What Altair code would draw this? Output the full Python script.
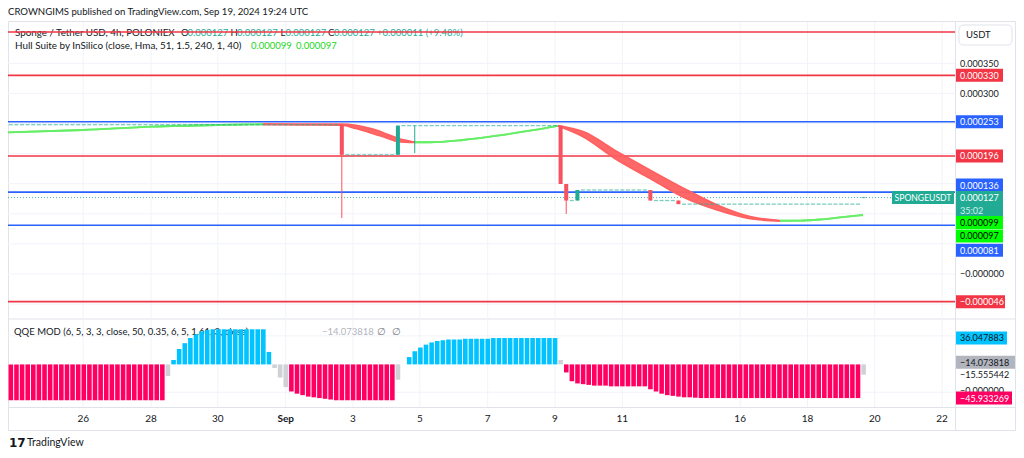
import altair as alt
import pandas as pd

FONT = "Lato"
DARK = "#131722"
TEAL = "#22ab94"
CANDLE_RED = "#f7525f"
LINE_RED = "#f23645"
LINE_BLUE = "#2962ff"
GRID = "#f0f3fa"
FRAME = "#e0e3eb"
HULL_GREEN = "#66ee66"
HULL_RED = "#ff6060"
Q_BLUE = "#00c3ff"
Q_PINK = "#ff0062"
Q_GREY = "#cfd1d6"

# ---------------- data ----------------
X_MAX = 168.8                      # bars visible in the pane (4h bars)
TICK_POS = [13.4, 25.5, 37.4, 49.5, 61.5, 73.4, 85.5, 97.5, 109.5, 130.5, 142.5, 154.5, 166.5]
TICK_LABELS = ["26", "28", "30", "Sep", "3", "5", "7", "9", "11", "16", "18", "20", "22"]

PRICE_MIN, PRICE_MAX = -0.0000748, 0.0004186
QQE_MIN, QQE_MAX = -58.2, 62.0

PRICE_GRID = [0.00035, 0.0003, 0.00025, 0.0002, 0.00015, 0.0001, 0.00005, 0.0, -0.00005]
QQE_GRID = [39, -38]

LEVEL_PRICES = [0.000402, 0.000330, 0.000253, 0.000196, 0.000136, 0.000081, -0.000046]
LEVEL_KIND = ["red", "red", "blue", "red", "blue", "blue", "red"]

# flat bars (open = high = low = close): (first bar, last bar, price)
FLAT_RUNS = [
    (0, 58, 0.000248), (60, 68, 0.000198), (70, 71, 0.0002465), (73, 97, 0.0002465),
    (100, 100, 0.000122), (102, 113, 0.0001395), (115, 118, 0.000122),
    (120, 151, 0.000116), (152, 152, 0.000127),
]
# moving bars: (bar, open, high, low, close)
CANDLES = [
    (59, 0.000248, 0.000248, 0.000093, 0.000198),
    (69, 0.000198, 0.0002465, 0.000198, 0.0002465),
    (72, 0.0002465, 0.0002465, 0.000201, 0.0002465),
    (98, 0.0002465, 0.0002465, 0.0001495, 0.0001495),
    (99, 0.0001495, 0.0001495, 0.0000997, 0.000122),
    (101, 0.000122, 0.0001395, 0.000122, 0.0001395),
    (114, 0.0001395, 0.0001395, 0.000122, 0.000122),
    (119, 0.000122, 0.000122, 0.000116, 0.000116),
]

# Hull Suite band: (colour, bar positions, upper line, lower line)
HULL_SEGMENTS = [
    ("green", [0, 13.4, 25.7, 37.4, 45.5],
     [0.0002354, 0.0002392, 0.0002447, 0.0002475, 0.0002487],
     [0.0002354, 0.0002392, 0.0002447, 0.0002475, 0.0002487]),
    ("red", [45.5, 52.0, 59.5, 62.0, 64.5, 67.0, 69.5, 72.5],
     [0.0002487, 0.0002488, 0.0002488, 0.0002467, 0.0002417, 0.0002342, 0.0002251, 0.0002188],
     [0.0002487, 0.0002478, 0.0002472, 0.0002417, 0.0002350, 0.0002276, 0.0002201, 0.0002188]),
    ("green", [72.5, 75.2, 81.1, 87.2, 93.0, 98.0],
     [0.0002188, 0.0002188, 0.0002226, 0.0002297, 0.0002380, 0.0002462],
     [0.0002188, 0.0002188, 0.0002226, 0.0002297, 0.0002380, 0.0002462]),
    ("red", [98.0, 102.5, 108.6, 114.4, 120.3, 126.4, 132.3, 137.6],
     [0.0002466, 0.0002364, 0.0002032, 0.0001728, 0.0001429, 0.0001146, 0.0000952, 0.0000885],
     [0.0002458, 0.0002281, 0.0001894, 0.0001590, 0.0001279, 0.0001063, 0.0000919, 0.0000880]),
    ("green", [137.6, 141.2, 144.7, 148.3, 152.4],
     [0.0000884, 0.0000887, 0.0000905, 0.0000939, 0.0000980],
     [0.0000884, 0.0000887, 0.0000905, 0.0000939, 0.0000980]),
]

# QQE MOD histogram, one value per bar, in colour runs
QQE_RUNS = [
    ("down", [-49, -49, -49, -49, -49, -49, -49, -49, -49, -49, -49, -49, -49, -49,
              -49, -49, -49, -49, -49, -49, -49, -49, -49, -49, -49, -49, -49, -49]),
    ("neutral", [-16]),
    ("up", [6, 21, 29, 36, 41, 45, 47, 48, 48, 48, 48, 48, 48, 48, 48, 48, 48, 17]),
    ("neutral", [-5, -18, -31]),
    ("down", [-37, -40, -42, -44, -45, -46, -47, -48, -49, -49, -49, -49, -49, -49,
              -49, -49, -49, -49, -49]),
    ("neutral", [-21, 0]),
    ("up", [10, 18, 23, 27, 30, 32, 33, 34, 34, 34, 35, 35, 35, 35, 35, 36, 36, 36,
            36, 36, 36, 36, 36, 36, 36, 36, 36]),
    ("neutral", [6]),
    ("down", [-11, -23, -26, -27, -28, -29, -29, -29, -30, -30, -30, -30, -30, -30,
              -30, -34, -37, -40, -42, -43, -44, -45, -45, -45.5, -46, -46, -46, -46,
              -46, -46, -46, -46, -46, -46, -46, -46, -46, -46, -46, -46, -46, -46,
              -46, -46, -46, -46, -46, -46, -46, -46, -46, -46, -46]),
    ("neutral", [-14.07]),
]

LAST_PRICE = 0.000127

# ---------------- scales ----------------
XS = alt.Scale(domain=[0, X_MAX], range=[8, 955], nice=False, zero=False)
YM = alt.Scale(domain=[PRICE_MIN, PRICE_MAX], range=[319, 22], nice=False, zero=False)
YQ = alt.Scale(domain=[QQE_MIN, QQE_MAX], range=[407, 319], nice=False, zero=False)

ONE = pd.DataFrame({"k": [0]})


def ptext(s, x, y, size=9.5, color=DARK, align="left", weight="normal", font=FONT):
    return alt.Chart(ONE).mark_text(
        align=align, baseline="middle", font=font, fontSize=size, color=color, fontWeight=weight
    ).encode(x=alt.value(x), y=alt.value(y), text=alt.value(s))


def pline(x1, y1, x2, y2, color=FRAME, w=1):
    return alt.Chart(ONE).mark_rule(color=color, strokeWidth=w).encode(
        x=alt.value(x1), x2=alt.value(x2), y=alt.value(y1), y2=alt.value(y2))


def tag_box(value, yscale, bg, offset=0, x1=956, x2=1003, h=13):
    d = pd.DataFrame({"v": [value]})
    return alt.Chart(d).mark_rule(color=bg, strokeWidth=h, yOffset=offset, strokeCap="butt").encode(
        x=alt.value(x1), x2=alt.value(x2), y=alt.Y("v:Q", scale=yscale, axis=None))


def tag_text(text, value, yscale, fg, offset=0, x1=956, size=9):
    d = pd.DataFrame({"v": [value], "t": [text]})
    return alt.Chart(d).mark_text(align="left", baseline="middle", font=FONT, fontSize=size,
                                  color=fg, yOffset=offset + 0.5).encode(
        x=alt.value(x1 + 4), y=alt.Y("v:Q", scale=yscale, axis=None), text="t:N")


def tag(text, value, yscale, bg, fg, offset=0, x1=956, x2=1003, h=13, size=9):
    out = []
    if bg:
        out.append(tag_box(value, yscale, bg, offset, x1, x2, h))
    out.append(tag_text(text, value, yscale, fg, offset, x1, size))
    return out


layers = []

# frame and separators
layers.append(alt.Chart(ONE).mark_rect(fillOpacity=0, stroke=FRAME, strokeWidth=1).encode(
    x=alt.value(8.5), x2=alt.value(1015.5), y=alt.value(21.5), y2=alt.value(430.5)))
layers.append(pline(8, 319, 1015, 319))
layers.append(pline(8, 407.5, 1015, 407.5))
layers.append(pline(955.5, 22, 955.5, 430))

# grid
tick_df = pd.DataFrame({"pos": TICK_POS, "lab": TICK_LABELS})
layers.append(alt.Chart(tick_df).mark_rule(color=GRID, strokeWidth=1).encode(
    x=alt.X("pos:Q", scale=XS, axis=None), y=alt.value(22), y2=alt.value(407)))
layers.append(alt.Chart(pd.DataFrame({"p": PRICE_GRID})).mark_rule(color=GRID, strokeWidth=1).encode(
    y=alt.Y("p:Q", scale=YM, axis=None), x=alt.value(8), x2=alt.value(955)))
layers.append(alt.Chart(pd.DataFrame({"q": QQE_GRID})).mark_rule(color=GRID, strokeWidth=1).encode(
    y=alt.Y("q:Q", scale=YQ, axis=None), x=alt.value(8), x2=alt.value(955)))

# header / legends
layers.append(ptext("CROWNGIMS published on TradingView.com, Sep 19, 2024 19:24 UTC", 8, 12, size=9.6))
layers.append(ptext("Sponge / Tether USD, 4h, POLONIEX", 15, 33, size=9.8))
for lab, xl, xv in [("O", 181, 187.5), ("H", 230.5, 237), ("L", 280.5, 285.5), ("C", 328, 334)]:
    layers.append(ptext(lab, xl, 33))
    layers.append(ptext("0.000127", xv, 33, color=TEAL))
layers.append(ptext("+0.000011 (+9.48%)", 377, 33, color=TEAL))
layers.append(ptext("Hull Suite by InSilico (close, Hma, 51, 1.5, 240, 1, 40)", 15, 46, size=9.9))
layers.append(ptext("0.000099", 251, 46, color="#22d822"))
layers.append(ptext("0.000097", 296, 46, color="#22d822"))
layers.append(ptext("QQE MOD (6, 5, 3, 3, close, 50, 0.35, 6, 5, 1.61, 3, close)", 14, 331.5))
layers.append(ptext("\u221214.073818", 322, 331.5, color="#b2b5be"))
layers.append(ptext("\u2205", 377, 331.5, color="#787b86"))
layers.append(ptext("\u2205", 392, 331.5, color="#787b86"))

# horizontal level lines
lvl_df = pd.DataFrame({"p": LEVEL_PRICES, "k": LEVEL_KIND})
layers.append(alt.Chart(lvl_df).transform_calculate(x0="0", x1=str(X_MAX)).mark_rule(strokeWidth=1.6).encode(
    x=alt.X("x0:Q", scale=XS, axis=None), x2="x1:Q",
    y=alt.Y("p:Q", scale=YM, axis=None),
    color=alt.Color("k:N", scale=alt.Scale(domain=["red", "blue"], range=[LINE_RED, LINE_BLUE]), legend=None)))

# QQE histogram
q_i, q_v, q_k = [], [], []
for kind, vals in QQE_RUNS:
    for v in vals:
        q_i.append(len(q_i))
        q_v.append(v)
        q_k.append(kind)
qdf = pd.DataFrame({"i": q_i, "v": q_v, "k": q_k})
layers.append(alt.Chart(qdf).transform_calculate(x0="datum.i + 0.1", x1="datum.i + 0.92", z="0").mark_rect().encode(
    x=alt.X("x0:Q", scale=XS, axis=None), x2="x1:Q",
    y=alt.Y("v:Q", scale=YQ, axis=None), y2="z:Q",
    color=alt.Color("k:N", scale=alt.Scale(domain=["up", "down", "neutral"], range=[Q_BLUE, Q_PINK, Q_GREY]),
                    legend=None)))

# current price dotted line
layers.append(alt.Chart(pd.DataFrame({"p": [LAST_PRICE]})).mark_rule(
    color=TEAL, strokeWidth=1, strokeDash=[1, 2], opacity=0.8).encode(
    y=alt.Y("p:Q", scale=YM, axis=None), x=alt.value(8), x2=alt.value(892)))

# Hull band
rows = []
for sid, (kind, xs, ups, los) in enumerate(HULL_SEGMENTS):
    for x, u, l in zip(xs, ups, los):
        rows.append({"s": sid, "k": kind, "x": x, "u": u, "l": l})
hdf = pd.DataFrame(rows)
hcol = alt.Scale(domain=["green", "red"], range=[HULL_GREEN, HULL_RED])
layers.append(alt.Chart(hdf).mark_area(interpolate="monotone", opacity=0.95).encode(
    x=alt.X("x:Q", scale=XS, axis=None), y=alt.Y("u:Q", scale=YM, axis=None), y2="l:Q",
    detail="s:N", color=alt.Color("k:N", scale=hcol, legend=None)))
for fld in ["u", "l"]:
    layers.append(alt.Chart(hdf).mark_line(interpolate="monotone", strokeWidth=1.8).encode(
        x=alt.X("x:Q", scale=XS, axis=None), y=alt.Y(f"{fld}:Q", scale=YM, axis=None),
        detail="s:N", color=alt.Color("k:N", scale=hcol, legend=None)))

# candles
flat_i, flat_p = [], []
for a, b, p in FLAT_RUNS:
    for i in range(a, b + 1):
        flat_i.append(i)
        flat_p.append(p)
for (i, o, h, l, c) in CANDLES:
    if o == c:
        flat_i.append(i)
        flat_p.append(o)
fdf = pd.DataFrame({"i": flat_i, "p": flat_p})
layers.append(alt.Chart(fdf).transform_calculate(x0="datum.i + 0.14", x1="datum.i + 0.86").mark_rule(
    color=TEAL, strokeWidth=1.3, opacity=0.6).encode(
    x=alt.X("x0:Q", scale=XS, axis=None), x2="x1:Q", y=alt.Y("p:Q", scale=YM, axis=None)))

cdf = pd.DataFrame(CANDLES, columns=["i", "o", "h", "l", "c"])
cdf["dir"] = ["up" if c >= o else "down" for o, c in zip(cdf["o"], cdf["c"])]
ccol = alt.Scale(domain=["up", "down"], range=[TEAL, CANDLE_RED])
layers.append(alt.Chart(cdf).transform_calculate(xm="datum.i + 0.5").mark_rule(strokeWidth=1).encode(
    x=alt.X("xm:Q", scale=XS, axis=None), y=alt.Y("l:Q", scale=YM, axis=None), y2="h:Q",
    color=alt.Color("dir:N", scale=ccol, legend=None)))
layers.append(alt.Chart(cdf).transform_filter("datum.o != datum.c").transform_calculate(
    x0="datum.i + 0.14", x1="datum.i + 0.86").mark_rect().encode(
    x=alt.X("x0:Q", scale=XS, axis=None), x2="x1:Q",
    y=alt.Y("o:Q", scale=YM, axis=None), y2="c:Q",
    color=alt.Color("dir:N", scale=ccol, legend=None)))

# x axis labels
layers.append(alt.Chart(tick_df).transform_filter("datum.lab != 'Sep'").mark_text(
    baseline="middle", font=FONT, fontSize=10, color=DARK).encode(
    x=alt.X("pos:Q", scale=XS, axis=None), y=alt.value(419), text="lab:N"))
layers.append(alt.Chart(tick_df).transform_filter("datum.lab == 'Sep'").mark_text(
    baseline="middle", font=FONT, fontSize=10, color=DARK, fontWeight="bold").encode(
    x=alt.X("pos:Q", scale=XS, axis=None), y=alt.value(419), text="lab:N"))

# price scale labels (main pane)
layers.append(alt.Chart(ONE).mark_rect(fill="white", stroke=FRAME, cornerRadius=4).encode(
    x=alt.value(959), x2=alt.value(1012), y=alt.value(25), y2=alt.value(45)))
layers.append(ptext("USDT", 966, 35, size=9.5))
layers += tag("0.000350", 0.00035, YM, None, DARK)
layers += tag("0.000300", 0.0003, YM, None, DARK)
layers += tag("\u22120.000000", 0.0, YM, None, DARK)
layers += tag("0.000330", 0.000330, YM, LINE_RED, "white")
layers += tag("0.000253", 0.000253, YM, LINE_BLUE, "white")
layers += tag("0.000196", 0.000196, YM, LINE_RED, "white")
layers += tag("0.000136", 0.000136, YM, LINE_BLUE, "white", offset=-7)
# last price box (two lines)
layers.append(tag_box(LAST_PRICE, YM, TEAL, offset=6, h=25))
layers.append(tag_text("0.000127", LAST_PRICE, YM, "white", offset=0))
layers.append(tag_text("35:02", LAST_PRICE, YM, "#d4f0ea", offset=12.5))
layers += tag("0.000099", 0.000099, YM, "#00ff00", "black", offset=8)
layers += tag("0.000097", 0.000097, YM, "#00ff00", "black", offset=20.4)
layers += tag("0.000081", 0.000081, YM, LINE_BLUE, "white", offset=25)
layers += tag("\u22120.000046", -0.000046, YM, LINE_RED, "white", x2=1005)
# symbol tag on the price line
sym = pd.DataFrame({"v": [LAST_PRICE], "t": ["SPONGEUSDT"]})
layers.append(alt.Chart(sym).mark_rule(color=TEAL, strokeWidth=13, strokeCap="butt").encode(
    x=alt.value(892), x2=alt.value(954), y=alt.Y("v:Q", scale=YM, axis=None)))
layers.append(alt.Chart(sym).mark_text(align="center", baseline="middle", font=FONT, fontSize=8.6,
                                       color="white", yOffset=0.5).encode(
    x=alt.value(923), y=alt.Y("v:Q", scale=YM, axis=None), text="t:N"))

# QQE scale labels
layers += tag("36.047883", 36.047883, YQ, Q_BLUE, DARK, x2=1007)
layers += tag("\u22120.000000", -36.0, YQ, None, DARK)
layers += tag("\u221214.073818", -14.073818, YQ, "#b2b5be", DARK, offset=-12.5, x2=1015)
layers += tag("\u221215.555442", -15.555442, YQ, None, DARK, offset=-1)
layers += tag("\u221245.933269", -45.933269, YQ, Q_PINK, "white", x2=1012)

# TradingView mark
layers.append(ptext("17", 9, 443, size=12, weight="bold", font="DejaVu Sans"))
layers.append(ptext("TradingView", 27, 443, size=10.5))

chart = alt.layer(*layers).properties(
    width=1024, height=458, background="white", padding=0,
    autosize=alt.AutoSizeParams(type="none"),
).resolve_scale(y="independent", color="independent").configure_view(stroke=None)

chart.save("out.html", embed_options={"renderer": "svg", "actions": False})
